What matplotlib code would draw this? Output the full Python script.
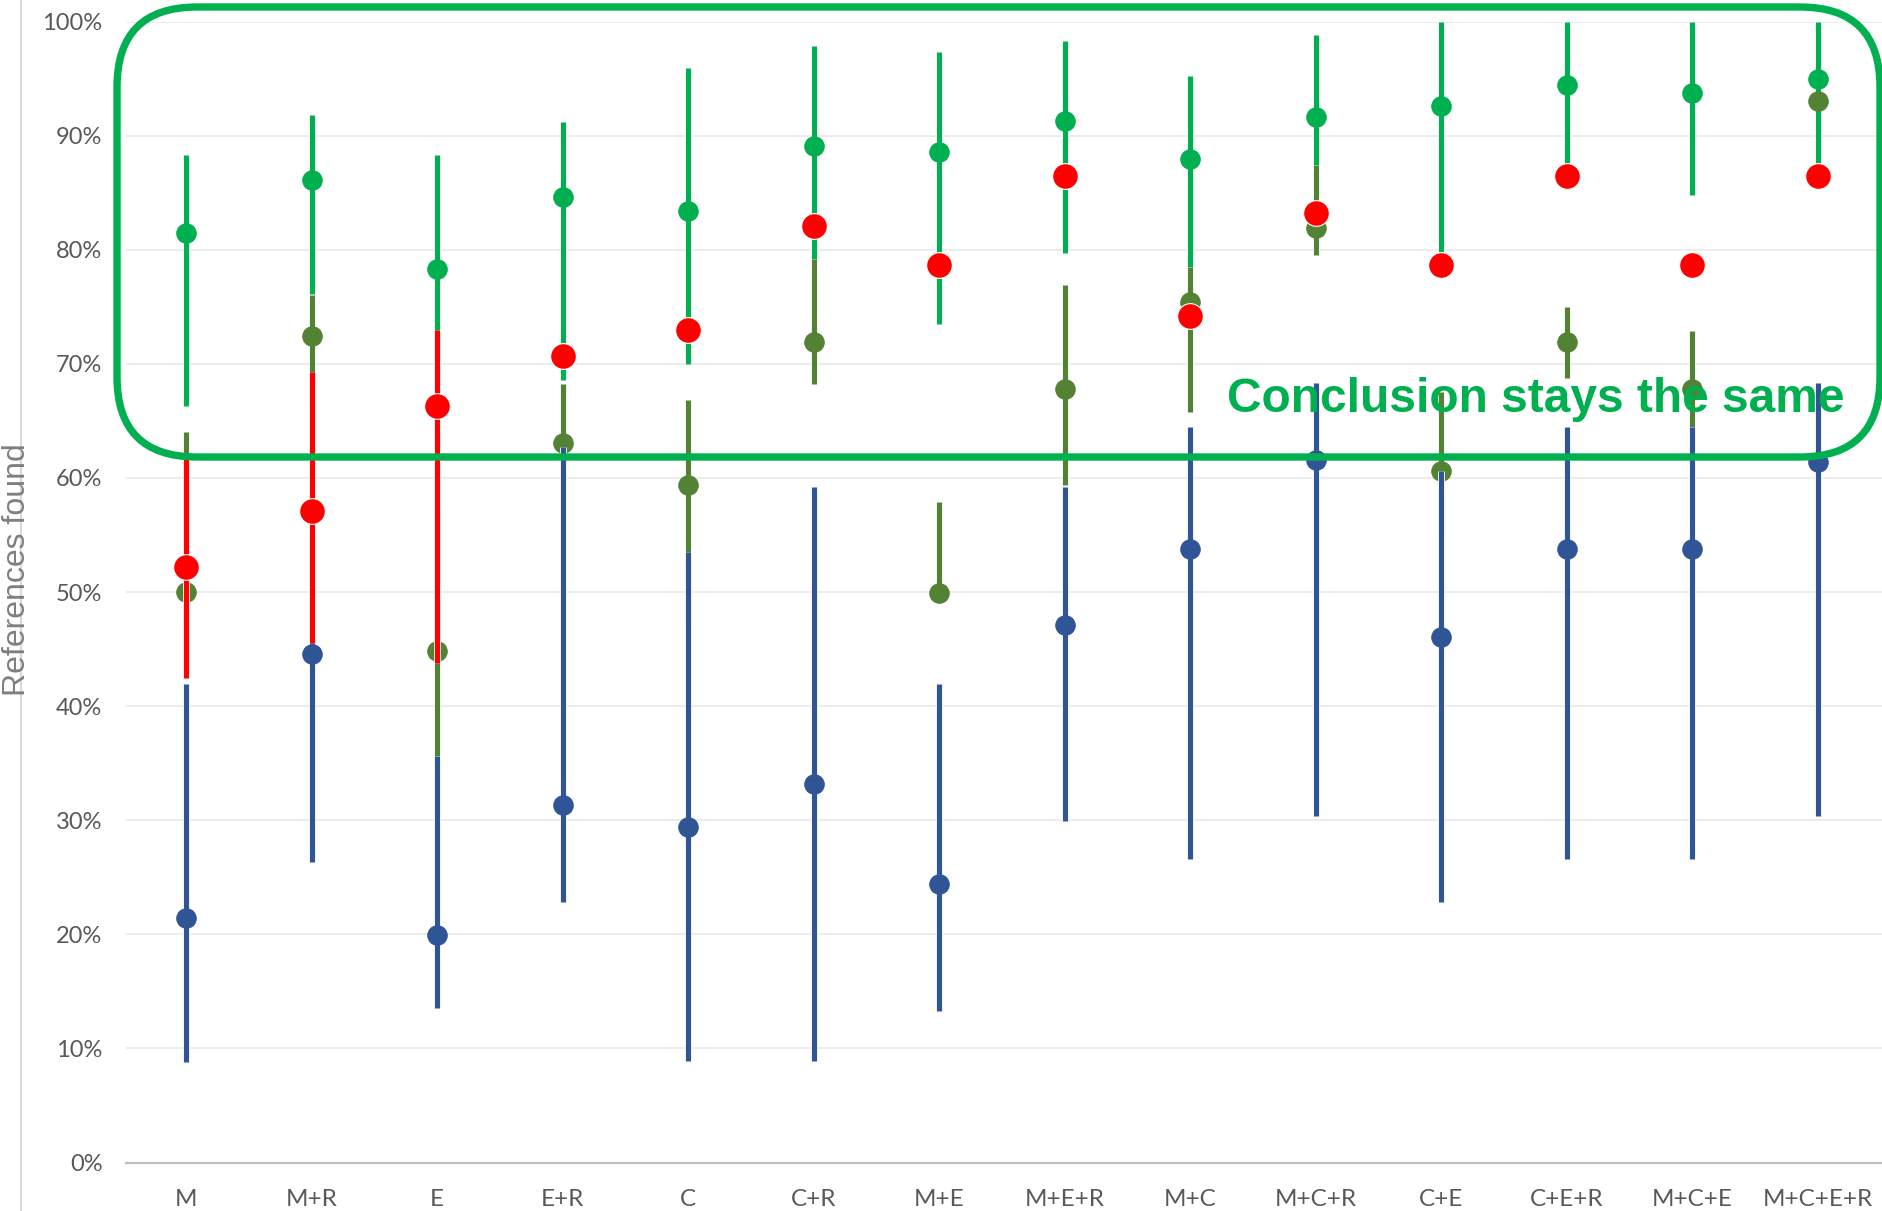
import matplotlib
matplotlib.use("Agg")
import matplotlib.pyplot as plt
import numpy as np
from matplotlib.ticker import PercentFormatter, FixedLocator
from matplotlib.patches import FancyBboxPatch
from matplotlib.lines import Line2D
import matplotlib.patheffects as pe

# ---------------- data ----------------
categories = ['M', 'M+R', 'E', 'E+R', 'C', 'C+R', 'M+E', 'M+E+R', 'M+C',
              'M+C+R', 'C+E', 'C+E+R', 'M+C+E', 'M+C+E+R']

blue_val = [21.4, 44.6, 19.9, 31.3, 29.4, 33.2, 24.4, 47.1, 53.8, 61.6, 46.1, 53.8, 53.8, 61.4]
blue_lo = [8.8, 26.3, 13.5, 22.8, 8.9, 8.9, 13.3, 29.9, 26.6, 30.4, 22.8, 26.6, 26.6, 30.4]
blue_hi = [41.9, 59.3, 35.6, 62.7, 53.5, 59.2, 41.9, 59.2, 64.5, 68.3, 60.6, 64.5, 64.5, 68.3]

olive_val = [50.0, 72.4, 44.8, 63.1, 59.4, 71.9, 49.9, 67.8, 75.4, 81.9, 60.6, 71.9, 67.8, 93.0]
olive_lo = [47.7, 66.1, 35.6, 60.0, 47.3, 68.2, 49.9, 59.4, 65.8, 79.5, 55.0, 68.8, 64.5, 93.0]
olive_hi = [64.0, 76.0, 57.5, 68.2, 66.8, 79.2, 57.9, 76.9, 78.5, 87.4, 67.5, 75.0, 72.9, 93.0]

green_val = [81.5, 86.1, 78.3, 84.6, 83.4, 89.1, 88.6, 91.3, 88.0, 91.6, 92.6, 94.4, 93.7, 95.0]
green_lo = [66.3, 76.1, 62.2, 68.6, 70.0, 79.2, 73.5, 79.7, 78.5, 87.4, 79.8, 85.3, 84.8, 87.6]
green_hi = [88.3, 91.8, 88.3, 91.2, 95.9, 97.9, 97.3, 98.3, 95.2, 98.8, 100, 100, 100, 100]

red_val = [52.2, 57.1, 66.3, 70.7, 73.0, 82.1, 78.7, 86.5, 74.2, 83.2, 78.7, 86.5, 78.7, 86.5]
red_lo = [42.5, 45.5, 43.8, 70.7, 73.0, 82.1, 78.7, 86.5, 74.2, 83.2, 78.7, 86.5, 78.7, 86.5]
red_hi = [62.0, 69.3, 73.0, 70.7, 73.0, 82.1, 78.7, 86.5, 74.2, 83.2, 78.7, 86.5, 78.7, 86.5]

y_ticks = [0, 10, 20, 30, 40, 50, 60, 70, 80, 90, 100]
annotation = "Conclusion stays the same"
y_label = "References found"

# ---------------- figure ----------------
W, H = 1883, 1211
fig = plt.figure(figsize=(W / 100, H / 100), dpi=100)
fig.patch.set_facecolor('white')

ax_left = 126 / W
ax_bottom = 1 - 1162.5 / H
ax_top = 1 - 21.6 / H
ax = fig.add_axes([ax_left, ax_bottom, 1 - ax_left, ax_top - ax_bottom])

x = np.arange(len(categories))

series = [
    (green_val, green_lo, green_hi, '#00B050', 14, 2),
    (olive_val, olive_lo, olive_hi, '#548235', 14, 3),
    (blue_val, blue_lo, blue_hi, '#2F5597', 14, 4),
    (red_val, red_lo, red_hi, '#FF0000', 18.5, 5),
]

for val, lo, hi, col, ms, z in series:
    v = np.array(val, dtype=float)
    l = np.array(lo, dtype=float)
    h = np.array(hi, dtype=float)
    yerr = np.vstack([v - l, h - v])
    cont = ax.errorbar(x, v, yerr=yerr, fmt='o', color=col, ecolor=col,
                       elinewidth=3.7, capsize=0, markersize=ms,
                       markeredgecolor='white' if col == '#FF0000' else col,
                       markeredgewidth=0.8, zorder=z)
    for lc in cont[2]:
        lc.set_path_effects([pe.Stroke(linewidth=4.9, foreground='white'), pe.Normal()])
        lc.set_zorder(z)

ax.set_xlim(-0.478, 13.52)
ax.set_ylim(0, 100)
ax.yaxis.set_major_locator(FixedLocator(y_ticks))
ax.yaxis.set_major_formatter(PercentFormatter(decimals=0))
ax.set_xticks(x)
ax.set_xticklabels(categories)

ax.grid(axis='y', color='#EBEBEB', linewidth=1.3, zorder=0)
ax.set_axisbelow(True)
for s in ['top', 'right', 'left']:
    ax.spines[s].set_visible(False)
ax.spines['bottom'].set_color('#BFBFBF')
ax.spines['bottom'].set_linewidth(1.6)
ax.tick_params(axis='both', length=0)
ax.tick_params(axis='y', pad=17, labelsize=17, labelcolor='#595959')
ax.tick_params(axis='x', pad=19, labelsize=17.5, labelcolor='#595959')
for lab in ax.get_xticklabels() + ax.get_yticklabels():
    lab.set_fontfamily(['Lato', 'DejaVu Sans'])

# y label
fig.text(17 / W, 1 - 570 / H, y_label, rotation=90, ha='center', va='center',
         fontsize=23, color='#7F7F7F', family=['Liberation Sans', 'DejaVu Sans'])

# faint left line (artifact of original)
fig.add_artist(Line2D([21 / W, 21 / W], [0, 1], transform=fig.transFigure,
                      color='#D9D9D9', linewidth=1.5))

# overlay axes in pixel coordinates for the rounded box and annotation
ov = fig.add_axes([0, 0, 1, 1], facecolor='none')
ov.set_xlim(0, W)
ov.set_ylim(H, 0)
ov.axis('off')
box = FancyBboxPatch((117, 7), 1763, 450,
                     boxstyle="round,pad=0,rounding_size=80",
                     facecolor='none', edgecolor='#00B050', linewidth=5.3,
                     zorder=10)
ov.add_patch(box)
ov.text(1845, 400, annotation, ha='right', va='center', fontsize=34.5,
        fontweight='bold', color='#00B050',
        family=['Liberation Sans', 'DejaVu Sans'], zorder=11)

fig.savefig('out.png', dpi=100, facecolor='white')
